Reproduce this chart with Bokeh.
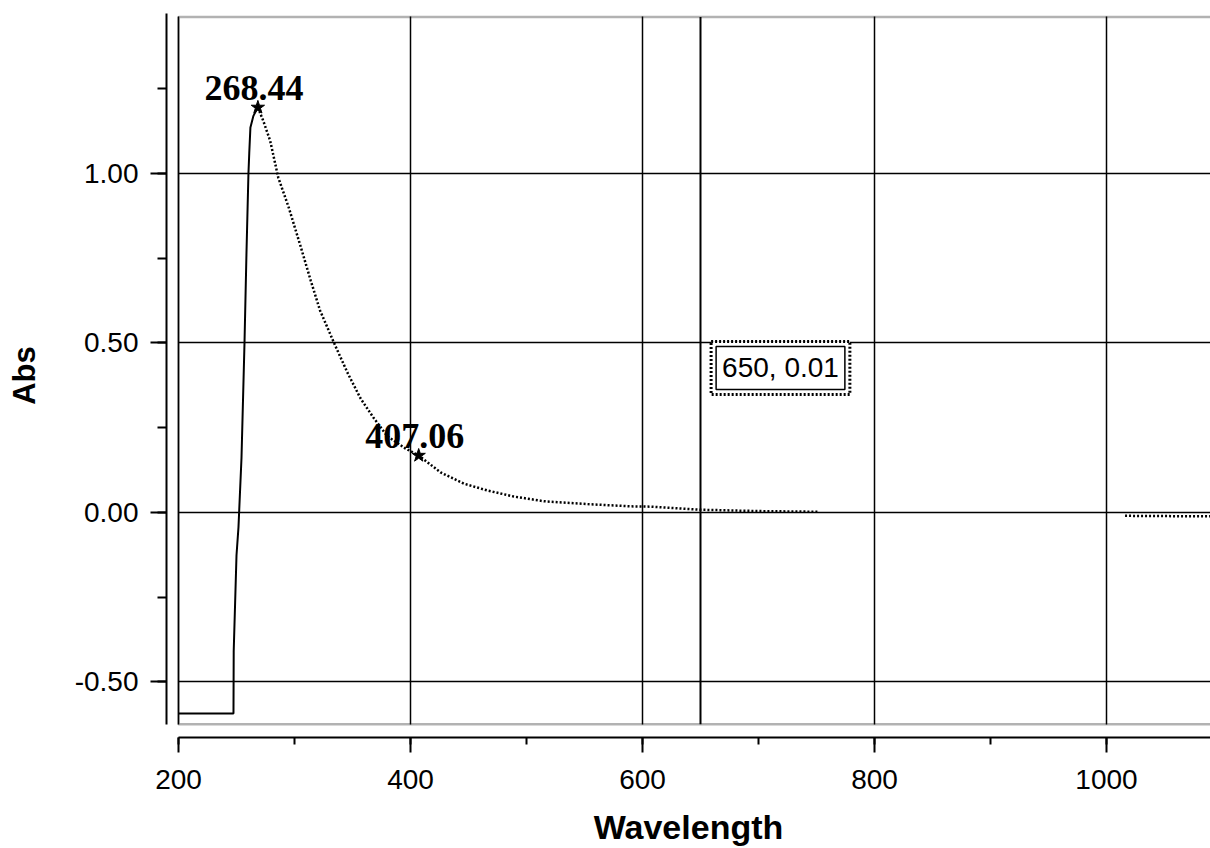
from bokeh.plotting import figure
from bokeh.models import (Range1d, SingleIntervalTicker, NumeralTickFormatter,
                          BoxAnnotation, Label)
from bokeh.core.properties import value
from bokeh.embed import file_html
from bokeh.resources import INLINE

# ---------------- data ----------------
wavelength = [200, 247.4, 247.6, 250.0, 251.7, 254.3, 256.9, 258.5, 260.3, 261.0,
              262.0, 264.6, 268.44, 273, 279, 286, 295, 305, 314, 322, 335, 346,
              357, 368, 380, 395, 407.06, 426, 446, 466, 489, 515, 555, 590, 607,
              650, 700, 752, float("nan"), 1016, 1060, 1100]
absorbance = [-0.593, -0.593, -0.41, -0.127, -0.044, 0.16, 0.50, 0.75, 1.00, 1.06,
              1.136, 1.17, 1.195, 1.156, 1.097, 0.988, 0.90, 0.788, 0.684, 0.596,
              0.493, 0.41, 0.336, 0.28, 0.225, 0.19, 0.168, 0.118, 0.085, 0.065,
              0.047, 0.033, 0.024, 0.018, 0.017, 0.008, 0.004, 0.002, float("nan"),
              -0.01, -0.011, -0.011]

peak_wavelength = [268.44, 407.06]
peak_absorbance = [1.195, 0.168]
peak_labels = ["268.44", "407.06"]

cursor_wavelength = 650
cursor_abs_anchor = 0.5
cursor_text = "650, 0.01"

x_ticks_interval = 200
y_ticks_interval = 0.5
x_axis_title = "Wavelength"
y_axis_title = "Abs"

# ---------------- figure ----------------
x_start, x_end = 189.66, 1089.66
y_start, y_end = -0.664, 1.472
inner_bottom = -0.625
inner_top = 1.462
inner_left = 200

p = figure(width=1210, height=848, output_backend="svg", toolbar_location=None,
           x_range=Range1d(x_start, x_end), y_range=Range1d(y_start, y_end),
           min_border_left=166, min_border_right=0, min_border_top=13,
           min_border_bottom=111, background_fill_color="white",
           border_fill_color="white", outline_line_color=None)

# axes
p.xaxis.ticker = SingleIntervalTicker(interval=x_ticks_interval, num_minor_ticks=2)
p.yaxis.ticker = SingleIntervalTicker(interval=y_ticks_interval, num_minor_ticks=2)
p.yaxis.formatter = NumeralTickFormatter(format="0.00")
p.xaxis.bounds = (inner_left, x_end + 50)
p.yaxis.bounds = (inner_bottom, y_end)

for ax in (p.xaxis[0], p.yaxis[0]):
    ax.axis_line_color = "black"
    ax.axis_line_width = 2
    ax.major_tick_line_color = "black"
    ax.major_tick_line_width = 2
    ax.minor_tick_line_color = "black"
    ax.minor_tick_line_width = 2
    ax.major_tick_in = 0
    ax.minor_tick_in = 0
    ax.major_label_text_font = "Liberation Sans"
    ax.major_label_text_font_size = "28px"
    ax.major_label_text_color = "black"
    ax.axis_label_text_font = "Liberation Sans"
    ax.axis_label_text_font_style = "bold"
    ax.axis_label_text_color = "black"

p.xaxis.major_tick_out = 15
p.xaxis.minor_tick_out = 7
p.yaxis.major_tick_out = 16
p.yaxis.minor_tick_out = 9
p.xaxis.major_label_standoff = 17
p.yaxis.major_label_standoff = 12
p.xaxis.axis_label = x_axis_title
p.yaxis.axis_label = y_axis_title
p.xaxis.axis_label_text_font_size = "34px"
p.yaxis.axis_label_text_font_size = "31px"
p.xaxis.axis_label_standoff = 16
p.yaxis.axis_label_standoff = 30

# grid
p.xgrid.grid_line_color = "black"
p.xgrid.grid_line_width = 1.5
p.ygrid.grid_line_color = "black"
p.ygrid.grid_line_width = 1.5
p.xgrid.cross_bounds = (inner_bottom, inner_top)
p.ygrid.cross_bounds = (inner_left, x_end + 50)

# inner frame
p.add_layout(BoxAnnotation(left=inner_left, bottom=inner_bottom, right=x_end + 50,
                           top=inner_top, fill_alpha=0, line_color="black",
                           line_width=2.5, level="overlay"))

# cursor line (from the inner frame bottom to the top)
p.segment(x0=[cursor_wavelength], y0=[inner_bottom], x1=[cursor_wavelength],
          y1=[inner_top], line_color="black", line_width=2)

# spectrum: rise (solid) and decay (dotted)
k = absorbance.index(max(absorbance))
p.line(wavelength[:k + 1], absorbance[:k + 1], line_color="black", line_width=2)
p.line(wavelength[k:], absorbance[k:], line_color="black", line_width=2.5,
       line_dash="2 2")

# peaks
p.scatter(peak_wavelength, peak_absorbance, marker="star", size=14,
          color="black")
p.text(x=peak_wavelength, y=peak_absorbance, text=peak_labels,
       text_font=value("Liberation Serif"), text_font_style="bold",
       text_font_size="36px", text_color="black", text_align="center",
       text_baseline="middle", x_offset=-4, y_offset=-19)

# cursor readout box
outer = Label(x=cursor_wavelength, y=cursor_abs_anchor, x_offset=80, y_offset=-25,
              text=cursor_text, text_font="Liberation Sans", text_font_size="28px",
              text_color="white", text_align="center", text_baseline="middle",
              border_line_color="black", border_line_dash="2 2",
              border_line_width=3, background_fill_color="white", padding=11)
inner = Label(x=cursor_wavelength, y=cursor_abs_anchor, x_offset=80, y_offset=-25,
              text=cursor_text, text_font="Liberation Sans", text_font_size="28px",
              text_color="black", text_align="center", text_baseline="middle",
              border_line_color="black", border_line_width=1.5,
              background_fill_alpha=0, padding=6)
p.add_layout(outer)
p.add_layout(inner)

open("out.html", "w").write(file_html(p, INLINE))
